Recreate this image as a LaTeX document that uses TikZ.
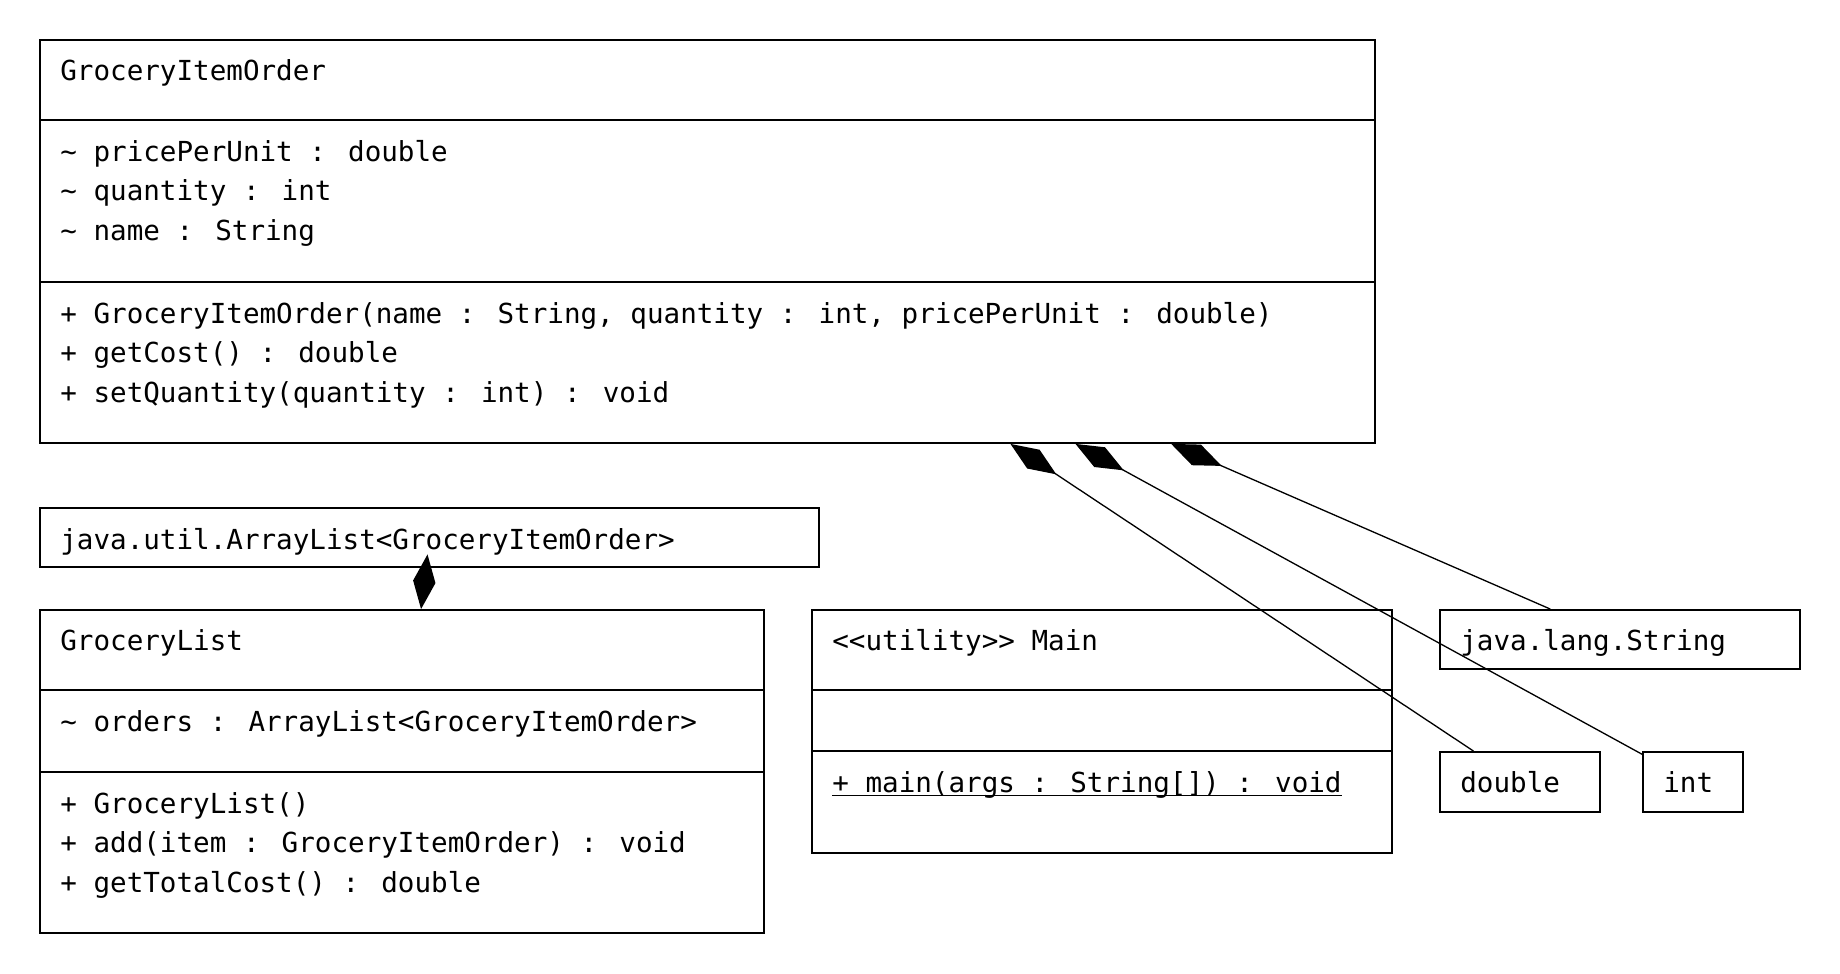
\documentclass[tikz,border=0pt]{standalone}
\usepackage{fontspec}
\newfontfamily\umlfont{DejaVu Sans Mono}
\usetikzlibrary{arrows.meta}

\begin{document}
\begin{tikzpicture}[x=0.02cm, y=-0.02cm,
    umlbox/.style={draw, line width=1.1pt, inner sep=0pt},
    member/.style={anchor=base west, inner sep=0pt, font=\umlfont\fontsize{15.7}{19}\selectfont},
    composition/.style={{Diamond[length=1.1cm, width=0.45cm]}-, line width=0.75pt}]
  \useasboundingbox (0,0) rectangle (1840,974);
  % classes
  \node[umlbox, minimum width=26.7cm, minimum height=8.06cm] (order) at (707.5,241.5) {};
  \node[umlbox, minimum width=15.58cm, minimum height=1.18cm] (arraylist) at (429.5,537.5) {};
  \node[umlbox, minimum width=14.48cm, minimum height=6.46cm] (list) at (402,771.5) {};
  \node[umlbox, minimum width=11.6cm, minimum height=4.86cm] (main) at (1102,731.5) {};
  \node[umlbox, minimum width=7.2cm, minimum height=1.18cm] (string) at (1620,639.5) {};
  \node[umlbox, minimum width=3.2cm, minimum height=1.2cm] (double) at (1520,782) {};
  \node[umlbox, minimum width=2cm, minimum height=1.2cm] (int) at (1693,782) {};
  % compartments
  \foreach \cls/\y in {order/120, order/282, list/690, list/772, main/690, main/751}
    \draw[line width=1.1pt] (\cls.west |- 0,\y) -- (\cls.east |- 0,\y);
  % GroceryItemOrder
  \node[member] (orderName) at (60,80) {GroceryItemOrder};
  \node[member] (orderA1) at (60,161) {\textasciitilde{} pricePerUnit : double};
  \node[member] (orderA2) at (60,200.5) {\textasciitilde{} quantity : int};
  \node[member] (orderA3) at (60,240) {\textasciitilde{} name : String};
  \node[member] (orderM1) at (60,323) {+ GroceryItemOrder(name : String, quantity : int, pricePerUnit : double)};
  \node[member] (orderM2) at (60,362.5) {+ getCost() : double};
  \node[member] (orderM3) at (60,402) {+ setQuantity(quantity : int) : void};
  % GroceryList
  \node[member] (arraylistName) at (60,549) {java.util.ArrayList<GroceryItemOrder>};
  \node[member] (listName) at (60,650) {GroceryList};
  \node[member] (listA1) at (60,731) {\textasciitilde{} orders : ArrayList<GroceryItemOrder>};
  \node[member] (listM1) at (60,813) {+ GroceryList()};
  \node[member] (listM2) at (60,852.5) {+ add(item : GroceryItemOrder) : void};
  \node[member] (listM3) at (60,892) {+ getTotalCost() : double};
  % Main
  \node[member] (mainName) at (832,650) {<<utility>> Main};
  \node[member] (mainM1) at (832,792) {+ main(args : String[]) : void};
  \draw[line width=0.8pt] ([yshift=-2pt]mainM1.base west) -- ([yshift=-2pt]mainM1.base east);
  % types
  \node[member] (stringName) at (1460,650) {java.lang.String};
  \node[member] (doubleName) at (1460,792) {double};
  \node[member] (intName) at (1663,792) {int};
  % compositions
  \draw[composition] (order) -- (double);
  \draw[composition] (order) -- (int);
  \draw[composition] (order) -- (string);
  \draw[composition] (list) -- (arraylist);
\end{tikzpicture}
\end{document}
